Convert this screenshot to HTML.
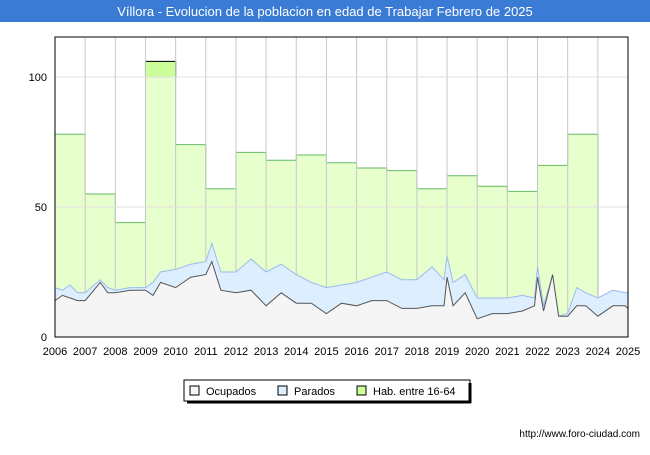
<!DOCTYPE html>
<html><head><meta charset="utf-8"><style>
body{margin:0;width:650px;height:450px;background:#fff;font-family:"Liberation Sans",sans-serif;overflow:hidden}
</style></head><body>
<svg id="chart" width="650" height="450">
<rect x="0" y="0" width="650" height="22" fill="#3a7bd5"/>
<text x="325" y="16" text-anchor="middle" font-size="13" fill="#fff">Víllora - Evolucion de la poblacion en edad de Trabajar Febrero de 2025</text>
<g id="plot"></g>
<g>
<rect x="184" y="380" width="286" height="21" fill="#fff" stroke="#000"/>
<line x1="470" y1="383" x2="470" y2="403" stroke="#000" stroke-width="3"/>
<line x1="187" y1="402" x2="471" y2="402" stroke="#000" stroke-width="3"/>
<rect x="190" y="386" width="9" height="9" fill="#f5f5f5" stroke="#000"/>
<text x="206" y="395" font-size="11">Ocupados</text>
<rect x="278" y="386" width="9" height="9" fill="#ddeeff" stroke="#000"/>
<text x="294" y="395" font-size="11">Parados</text>
<rect x="357" y="386" width="9" height="9" fill="#ccff99" stroke="#000"/>
<text x="373" y="395" font-size="11">Hab. entre 16-64</text>
</g>
<text x="640" y="437" text-anchor="end" font-size="10" fill="#000">http://www.foro-ciudad.com</text>
</svg>
<script>
const years=[2006,2007,2008,2009,2010,2011,2012,2013,2014,2015,2016,2017,2018,2019,2020,2021,2022,2023];
const habValues=[78,55,44,106,74,57,71,68,70,67,65,64,57,62,58,56,66,78];
const dates=[2006,2006.25,2006.5,2006.75,2007,2007.5,2007.75,2008,2008.5,2009,2009.25,2009.5,2010,2010.5,2011,2011.2,2011.5,2012,2012.5,2013,2013.5,2014,2014.5,2015,2015.5,2016,2016.5,2017,2017.5,2018,2018.5,2018.9,2019,2019.2,2019.6,2020,2020.5,2021,2021.5,2021.9,2022,2022.2,2022.5,2022.7,2023,2023.3,2023.6,2024,2024.5,2024.9,2025];
const ocupados=[14,16,15,14,14,21,17,17,18,18,16,21,19,23,24,29,18,17,18,12,17,13,13,9,13,12,14,14,11,11,12,12,23,12,17,7,9,9,10,12,23,10,24,8,8,12,12,8,12,12,11];
const totalActivos=[19,18,20,17,17,22,19,18,19,19,21,25,26,28,29,36,25,25,30,25,28,24,21,19,20,21,23,25,22,22,27,22,31,21,24,15,15,15,16,15,27,12,24,8,9,19,17,15,18,17,17];
const parados=totalActivos.map((t,i)=>t-ocupados[i]);
const yTicks=[0,50,100];
const xTicks=[2006,2007,2008,2009,2010,2011,2012,2013,2014,2015,2016,2017,2018,2019,2020,2021,2022,2023,2024,2025];

const L=55,R=628,T=37,B=337;
const xs=t=>L+(t-2006)*(R-L)/19;
const ys=v=>B-v*2.6;
const NS='http://www.w3.org/2000/svg';
const g=document.getElementById('plot');
function mk(tag,attrs){const e=document.createElementNS(NS,tag);for(const k in attrs)e.setAttribute(k,attrs[k]);g.appendChild(e);return e;}
let e=mk('rect',{x:L,y:T,width:R-L,height:B-T,fill:'#fff'});


// hab area
let p=`M${xs(years[0])},${ys(0)}`;
years.forEach((y,i)=>{p+=` L${xs(y)},${ys(habValues[i])} L${xs(y+1)},${ys(habValues[i])}`;});
p+=` L${xs(years[years.length-1]+1)},${ys(0)} Z`;
e=mk('path',{d:p,fill:'#e6ffcc',stroke:'#66bb66','stroke-width':1});


// 2009 darker top
e=mk('rect',{x:xs(2009),y:ys(habValues[3]),width:xs(2010)-xs(2009),height:ys(100)-ys(habValues[3]),fill:'#ccff99',stroke:'#000','stroke-width':1});


// grid
xTicks.forEach(t=>{const l=mk('line',{x1:xs(t),x2:xs(t),y1:T,y2:B,stroke:'#c8c8c8'});

});
yTicks.forEach(v=>{const l=mk('line',{x1:L,x2:R,y1:ys(v),y2:ys(v),stroke:'#e0e0e0'});

});
// total area
let pt=dates.map((d,i)=>`${xs(d)},${ys(ocupados[i]+parados[i])}`).join(' L');
e=mk('path',{d:`M${xs(dates[0])},${ys(0)} L${pt} L${xs(dates[dates.length-1])},${ys(0)} Z`,fill:'#ddeeff',stroke:'none'});


e=mk('path',{d:'M'+pt,fill:'none',stroke:'#99bbee','stroke-width':1});


let po=dates.map((d,i)=>`${xs(d)},${ys(ocupados[i])}`).join(' L');
e=mk('path',{d:`M${xs(dates[0])},${ys(0)} L${po} L${xs(dates[dates.length-1])},${ys(0)} Z`,fill:'#f5f5f5',stroke:'none'});


e=mk('path',{d:'M'+po,fill:'none',stroke:'#555','stroke-width':1});


xTicks.forEach(t=>{const l=mk('line',{x1:xs(t),x2:xs(t),y1:ys(0),y2:B,stroke:'#c8c8c8'});});
e=mk('rect',{x:L,y:T,width:R-L,height:B-T,fill:'none',stroke:'#000','stroke-width':1});


yTicks.forEach(v=>{const t=mk('text',{x:L-8,y:ys(v)+4,'text-anchor':'end','font-size':11});t.textContent=v;

});
xTicks.forEach(v=>{const t=mk('text',{x:xs(v),y:355,'text-anchor':'middle','font-size':11});t.textContent=v;

});
</script>
</body></html>
